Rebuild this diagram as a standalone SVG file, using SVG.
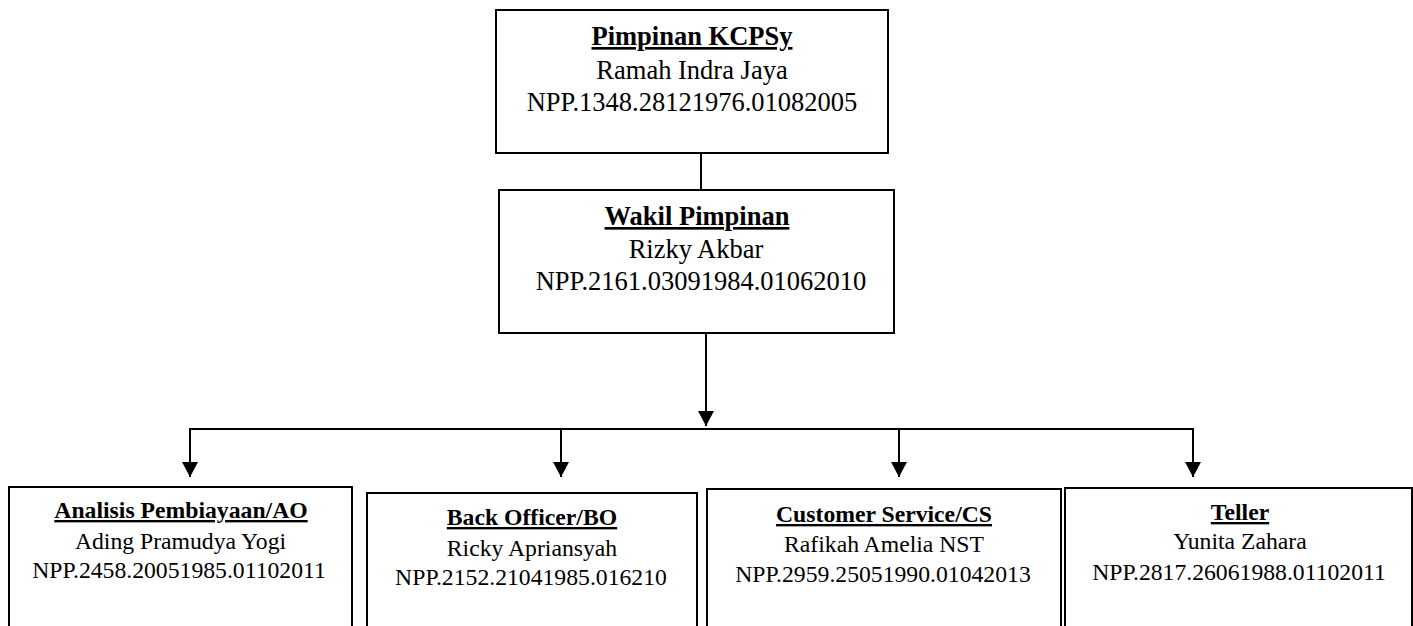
<svg xmlns="http://www.w3.org/2000/svg" width="1413" height="626" viewBox="0 0 1413 626">
  <style>
    .box { fill: #ffffff; stroke: #000000; stroke-width: 2; }
    .line { fill: none; stroke: #000000; stroke-width: 2; }
    text { font-family: "Liberation Serif", "Times New Roman", serif; fill: #000000; text-anchor: middle; }
    .big { font-size: 26.5px; }
    .small { font-size: 23.7px; }
    .title { font-weight: bold; text-decoration: underline; }
  </style>
  <defs>
    <marker id="arrow" markerUnits="userSpaceOnUse" markerWidth="16" markerHeight="16" viewBox="0 0 16 16" refX="15" refY="8" orient="auto">
      <path d="M0,0 L15,8 L0,16 Z" fill="#000000"/>
    </marker>
  </defs>

  <rect width="1413" height="626" fill="#ffffff"/>

  <!-- connectors -->
  <g id="connectors">
    <line class="line" x1="701" y1="153" x2="701" y2="190"/>
    <line class="line" x1="706" y1="333" x2="706" y2="426" marker-end="url(#arrow)"/>
    <line class="line" x1="190" y1="429" x2="1194" y2="429"/>
    <line class="line" x1="190" y1="428" x2="190" y2="477" marker-end="url(#arrow)"/>
    <line class="line" x1="561" y1="428" x2="561" y2="477" marker-end="url(#arrow)"/>
    <line class="line" x1="899" y1="428" x2="899" y2="477" marker-end="url(#arrow)"/>
    <line class="line" x1="1193" y1="428" x2="1193" y2="477" marker-end="url(#arrow)"/>
  </g>

  <!-- branch head -->
  <g id="pimpinan">
    <rect class="box" x="496" y="10" width="392" height="143"/>
    <text class="big title" x="692" y="45">Pimpinan KCPSy</text>
    <text class="big" x="692" y="79">Ramah Indra Jaya</text>
    <text class="big" x="692" y="111">NPP.1348.28121976.01082005</text>
  </g>

  <!-- deputy head -->
  <g id="wakil">
    <rect class="box" x="499" y="190" width="395" height="143"/>
    <text class="big title" x="697" y="225">Wakil Pimpinan</text>
    <text class="big" x="696" y="258">Rizky Akbar</text>
    <text class="big" x="701" y="290">NPP.2161.03091984.01062010</text>
  </g>

  <!-- staff -->
  <g id="ao">
    <rect class="box" x="9" y="487" width="343" height="150"/>
    <text class="small title" x="181" y="518">Analisis Pembiayaan/AO</text>
    <text class="small" x="180.5" y="549">Ading Pramudya Yogi</text>
    <text class="small" x="179" y="578">NPP.2458.20051985.01102011</text>
  </g>

  <g id="bo">
    <rect class="box" x="367" y="493" width="330" height="150"/>
    <text class="small title" x="532" y="525">Back Officer/BO</text>
    <text class="small" x="532" y="556">Ricky Apriansyah</text>
    <text class="small" x="531" y="585">NPP.2152.21041985.016210</text>
  </g>

  <g id="cs">
    <rect class="box" x="707" y="489" width="354" height="150"/>
    <text class="small title" x="884" y="522">Customer Service/CS</text>
    <text class="small" x="884" y="552">Rafikah Amelia NST</text>
    <text class="small" x="883" y="582">NPP.2959.25051990.01042013</text>
  </g>

  <g id="teller">
    <rect class="box" x="1065" y="488" width="347" height="150"/>
    <text class="small title" x="1240" y="520">Teller</text>
    <text class="small" x="1240" y="549">Yunita Zahara</text>
    <text class="small" x="1239" y="580">NPP.2817.26061988.01102011</text>
  </g>
</svg>
